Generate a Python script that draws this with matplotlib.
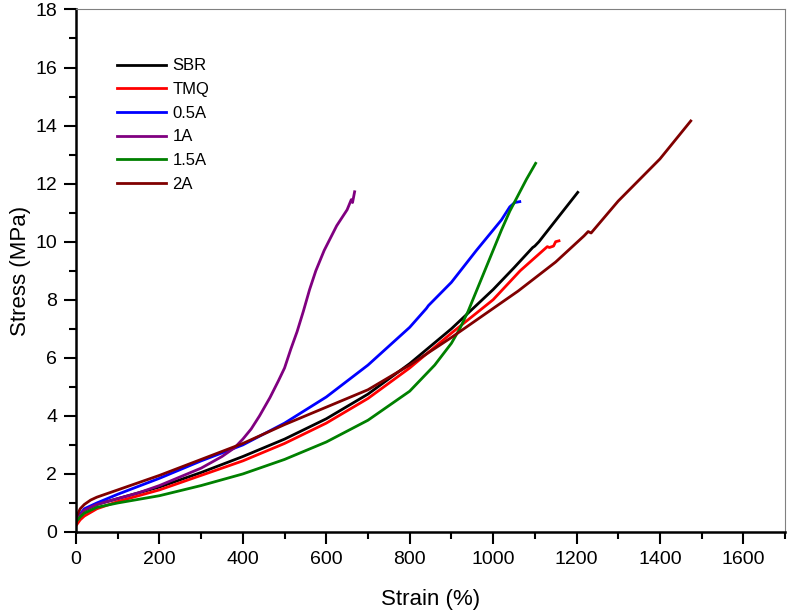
import numpy as np
import matplotlib
matplotlib.use("Agg")
import matplotlib.pyplot as plt
from matplotlib.ticker import MultipleLocator

plt.rcParams['font.family'] = ['Liberation Sans', 'DejaVu Sans']

# stress-strain curves (strain %, stress MPa)
sbr_x = [0, 10, 20, 50, 100, 200, 300, 400, 500, 600, 700, 800, 900, 1000, 1050, 1095, 1100, 1110, 1203]
sbr_y = [0.4, 0.6, 0.75, 0.95, 1.15, 1.55, 2.05, 2.6, 3.2, 3.9, 4.75, 5.8, 7.0, 8.35, 9.1, 9.8, 9.85, 10.0, 11.7]

tmq_x = [0, 10, 20, 50, 100, 200, 300, 400, 500, 600, 700, 800, 900, 1000, 1065, 1130, 1135, 1145, 1150, 1158]
tmq_y = [0.22, 0.42, 0.55, 0.8, 1.05, 1.45, 1.95, 2.45, 3.05, 3.75, 4.6, 5.65, 6.85, 8.0, 9.0, 9.83, 9.8, 9.85, 10.0, 10.03]

a05_x = [0, 10, 20, 50, 100, 200, 300, 400, 500, 600, 700, 800, 840, 845, 900, 960, 1020, 1040, 1052, 1064]
a05_y = [0.4, 0.62, 0.8, 1.0, 1.3, 1.85, 2.45, 3.0, 3.75, 4.65, 5.75, 7.05, 7.7, 7.8, 8.6, 9.7, 10.75, 11.2, 11.35, 11.38]

a1_x = [0, 10, 20, 50, 100, 150, 200, 250, 300, 350, 380, 400, 420, 440, 465, 485, 500, 515, 530, 545,
        560, 575, 595, 625, 650, 660, 663, 668]
a1_y = [0.35, 0.58, 0.75, 0.95, 1.15, 1.35, 1.6, 1.9, 2.2, 2.6, 2.9, 3.2, 3.55, 4.0, 4.63, 5.2, 5.65, 6.3, 6.9, 7.6,
        8.35, 9.0, 9.7, 10.55, 11.1, 11.45, 11.35, 11.72]

a15_x = [0, 10, 20, 50, 100, 200, 300, 400, 500, 600, 700, 800, 860, 900, 920, 940, 960, 980, 1000,
         1020, 1040, 1060, 1080, 1102]
a15_y = [0.35, 0.52, 0.65, 0.85, 1.0, 1.25, 1.6, 2.0, 2.5, 3.1, 3.85, 4.85, 5.75, 6.5, 7.0, 7.6, 8.3, 9.0, 9.7,
         10.4, 11.05, 11.6, 12.15, 12.7]

a2_x = [0, 10, 20, 35, 50, 100, 200, 300, 400, 500, 600, 700, 800, 900, 1000, 1060, 1150, 1218, 1228, 1235,
        1300, 1400, 1474]
a2_y = [0.5, 0.8, 0.95, 1.1, 1.2, 1.45, 1.95, 2.5, 3.05, 3.7, 4.3, 4.9, 5.75, 6.7, 7.7, 8.3, 9.3, 10.2, 10.35, 10.3,
        11.4, 12.85, 14.16]

labels = ['SBR', 'TMQ', '0.5A', '1A', '1.5A', '2A']
colors = ['#000000', '#ff0000', '#0000ff', '#800080', '#008000', '#800000']
series = [(sbr_x, sbr_y), (tmq_x, tmq_y), (a05_x, a05_y),
          (a1_x, a1_y), (a15_x, a15_y), (a2_x, a2_y)]

fig = plt.figure(figsize=(7.87, 6.11), dpi=100)
ax = fig.add_axes([0.0966, 0.1293, 0.9009, 0.8552])

for (x, y), lab, c in zip(series, labels, colors):
    ax.plot(x, y, color=c, lw=2.0, label=lab, solid_joinstyle='round')

ax.set_xlim(0, 1700)
ax.set_ylim(0, 18)
ax.xaxis.set_major_locator(MultipleLocator(200))
ax.xaxis.set_minor_locator(MultipleLocator(100))
ax.yaxis.set_major_locator(MultipleLocator(2))
ax.yaxis.set_minor_locator(MultipleLocator(1))

for s in ['left', 'bottom']:
    ax.spines[s].set_linewidth(1.8)
    ax.spines[s].set_color('black')
for s in ['top', 'right']:
    ax.spines[s].set_linewidth(0.8)
    ax.spines[s].set_color('#808080')

ax.tick_params(which='major', direction='out', length=8.5, width=1.5, labelsize=14, pad=5)
ax.tick_params(which='minor', direction='out', length=5, width=1.5)

ax.set_xlabel('Strain (%)', fontsize=16, labelpad=15)
ax.set_ylabel('Stress (MPa)', fontsize=16, labelpad=3)

ax.legend(loc='upper left', bbox_to_anchor=(0.037, 0.935), frameon=False,
          fontsize=12, handlelength=2.9, handletextpad=0.4, labelspacing=0.52)

plt.savefig('out.png', dpi=100)
